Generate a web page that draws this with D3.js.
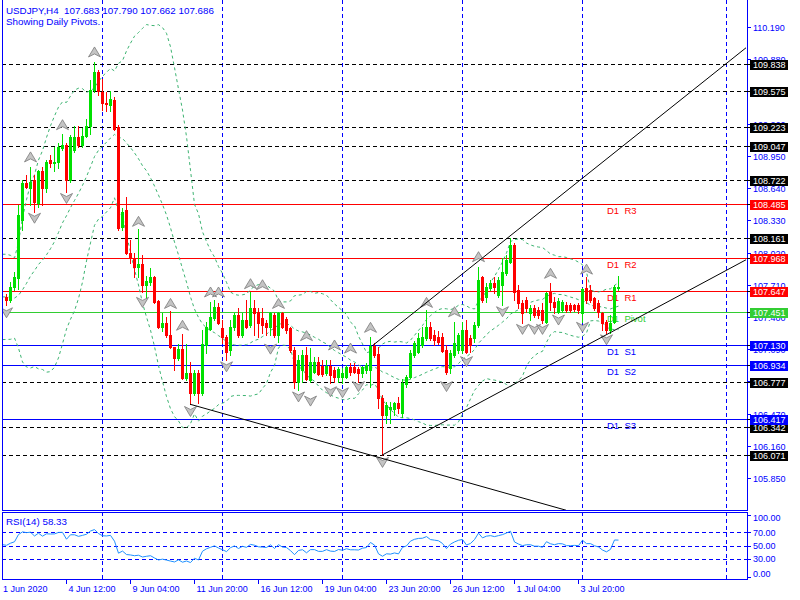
<!DOCTYPE html>
<html>
<head>
<meta charset="utf-8">
<script src="https://cdn.jsdelivr.net/npm/d3@7/dist/d3.min.js"></script>
<style>
html,body{margin:0;padding:0;background:#fff;}
svg{display:block;}
text{font-family:"Liberation Sans",Arial,sans-serif;font-size:9px;white-space:pre;}
</style>
</head>
<body>
<svg id="chart" width="800" height="600"></svg>
<script>
// ---------------- DATA ----------------
const titleText = "USDJPY,H4  107.683 107.790 107.662 107.686";
const subtitleText = "Showing Daily Pivots.";
const rsiLabel = "RSI(14) 58.33";

// bar index 0 = 1 Jun 2020 00:00 (H4 bars, weekdays); first drawn candle is bar 6
const firstIndex = 6;
const open = [
107.59,107.56,107.69,107.77,108.33,108.69,108.64,108.72,108.50,108.80,
108.64,108.91,108.88,108.89,109.03,109.05,108.72,109.01,109.13,109.05,
109.14,109.24,109.58,109.76,109.56,109.46,109.44,109.49,109.23,108.27,
108.43,108.02,107.97,107.88,107.91,107.71,107.74,107.78,107.55,107.30,
107.34,107.23,107.11,107.00,107.09,106.81,106.86,106.67,106.86,106.67,
107.13,107.28,107.39,107.50,107.29,107.21,107.08,107.30,107.42,107.23,
107.37,107.32,107.49,107.45,107.39,107.34,107.30,107.42,107.23,107.44,
107.38,107.29,107.08,106.77,106.89,107.03,106.79,106.87,106.97,106.93,
106.86,106.93,106.89,106.82,106.82,106.82,106.92,106.92,106.90,106.86,
106.89,106.89,107.12,107.04,106.62,106.46,106.51,106.51,106.57,106.48,
106.75,106.82,107.03,107.06,107.13,107.20,107.30,107.23,107.21,107.21,
107.08,106.91,107.03,107.08,107.08,107.27,107.20,107.20,107.32,107.78,
107.59,107.68,107.73,107.61,107.71,107.82,107.93,108.09,107.66,107.53,
107.56,107.44,107.49,107.47,107.47,107.35,107.64,107.54,107.45,107.47,
107.51,107.51,107.51,107.51,107.44,107.68,107.66,107.58,107.53,107.44,
107.35,107.27,107.35,107.683];
const high = [
107.62,107.74,107.83,108.48,108.72,108.77,108.84,108.77,108.81,108.84,
108.91,108.96,109.04,109.07,109.16,109.07,109.15,109.24,109.24,109.22,
109.30,109.68,109.85,109.78,109.69,109.56,109.57,109.52,109.25,108.45,
108.55,108.14,108.02,108.25,108.00,107.79,107.87,107.79,107.56,107.44,
107.40,107.46,107.11,107.14,107.24,107.14,106.97,106.89,106.89,107.27,
107.35,107.54,107.56,107.53,107.37,107.23,107.37,107.44,107.49,107.44,
107.56,107.64,107.56,107.49,107.49,107.37,107.45,107.44,107.45,107.45,
107.40,107.30,107.11,107.03,107.08,107.11,107.10,107.01,107.01,106.99,
106.99,106.99,106.92,106.92,106.91,106.94,106.96,106.96,106.92,106.93,
106.96,107.21,107.15,107.11,106.65,106.58,106.58,106.58,106.63,106.80,
106.84,107.08,107.17,107.25,107.30,107.47,107.35,107.27,107.26,107.25,
107.13,107.08,107.35,107.25,107.35,107.37,107.23,107.35,107.88,107.79,
107.73,107.76,107.78,107.78,107.97,108.00,108.16,108.11,107.71,107.56,
107.59,107.51,107.51,107.50,107.53,107.64,107.73,107.59,107.58,107.56,
107.54,107.53,107.52,107.53,107.68,107.78,107.71,107.59,107.56,107.45,
107.37,107.42,107.71,107.790];
const low = [
107.51,107.54,107.66,107.67,108.24,108.64,108.48,108.41,108.46,108.48,
108.60,108.84,108.80,108.83,109.01,108.60,108.70,108.99,109.04,109.04,
109.13,109.16,109.56,109.54,109.39,109.38,109.38,109.20,108.24,108.24,
108.01,107.92,107.78,107.78,107.64,107.58,107.71,107.53,107.29,107.26,
107.21,107.10,106.89,106.99,106.80,106.79,106.56,106.65,106.57,106.65,
107.05,107.27,107.37,107.33,107.15,106.99,107.03,107.27,107.21,107.21,
107.29,107.30,107.23,107.21,107.25,107.23,107.23,107.21,107.16,107.29,
107.25,107.06,106.72,106.70,106.77,106.79,106.77,106.86,106.84,106.83,
106.84,106.76,106.77,106.77,106.76,106.81,106.84,106.86,106.77,106.82,
106.86,106.73,107.01,106.52,106.07,106.38,106.38,106.46,106.48,106.44,
106.73,106.81,107.01,107.05,107.11,107.18,107.18,107.13,107.14,107.06,
106.85,106.86,107.01,107.05,107.05,107.05,107.06,107.16,107.30,107.54,
107.54,107.66,107.63,107.59,107.51,107.80,107.92,107.56,107.49,107.34,
107.45,107.37,107.40,107.39,107.34,107.34,107.47,107.44,107.44,107.45,
107.45,107.45,107.46,107.44,107.35,107.53,107.54,107.47,107.40,107.27,
107.25,107.25,107.34,107.662];
const close = [
107.56,107.69,107.78,108.38,108.69,108.65,108.70,108.51,108.80,108.64,
108.89,108.88,108.89,109.04,109.05,108.72,109.13,109.13,109.05,109.14,
109.24,109.58,109.76,109.57,109.46,109.45,109.50,109.21,108.26,108.41,
108.02,107.97,107.88,107.91,107.71,107.75,107.78,107.54,107.30,107.34,
107.23,107.11,107.00,107.09,106.81,106.86,106.67,106.86,106.67,107.14,
107.30,107.40,107.50,107.34,107.21,107.06,107.30,107.42,107.23,107.37,
107.30,107.49,107.44,107.34,107.32,107.30,107.44,107.23,107.44,107.30,
107.27,107.08,106.77,106.99,107.03,106.80,106.97,106.97,106.85,106.85,
106.93,106.84,106.82,106.90,106.86,106.92,106.87,106.87,106.86,106.92,
106.94,107.12,107.03,106.62,106.46,106.55,106.53,106.57,106.52,106.76,
106.82,107.05,107.15,107.20,107.21,107.30,107.20,107.18,107.16,107.07,
106.87,107.05,107.15,107.23,107.27,107.06,107.13,107.32,107.76,107.56,
107.69,107.73,107.69,107.76,107.83,107.95,108.09,107.64,107.53,107.44,
107.49,107.49,107.42,107.42,107.37,107.63,107.54,107.50,107.55,107.54,
107.47,107.47,107.48,107.47,107.67,107.56,107.56,107.49,107.45,107.34,
107.27,107.34,107.69,107.686];
// estimated closes of the 20 bars before the first drawn candle (indicator warm-up)
const warmupClose = [107.55,107.78,107.92,107.85,107.64,107.40,107.30,107.45,107.62,107.80,
107.88,107.70,107.52,107.28,107.20,107.35,107.58,107.75,107.68,107.60];

const timeTickIndex = [5,21,37,53,69,85,101,117,133,149];
const timeTickLabels = ["1 Jun 2020","4 Jun 12:00","9 Jun 04:00","11 Jun 20:00","16 Jun 12:00",
  "19 Jun 04:00","23 Jun 20:00","26 Jun 12:00","1 Jul 04:00","3 Jul 20:00"];
const weekGridIndex = [30,60,90,120,150,186];

const priceTicks = [105.85,106.16,106.47,106.78,107.09,107.40,107.71,108.02,108.33,108.64,108.95,109.26,109.57,109.88,110.19];
const hLevels = [109.838,109.575,109.223,109.047,108.722,108.161,106.777,106.342,106.071];
const pivotNames = ["D1  R3","D1  R2","D1  R1","D1  Pivot","D1  S1","D1  S2","D1  S3"];
const pivotValues = [108.485,107.968,107.647,107.451,107.130,106.934,106.417];
const pivotKinds = ["R","R","R","P","S","S","S"];

const upFractalIndex = [12,20,28,39,47,50,57,59,67,70,74,81,88,92,97,111,118,124,142,151];
const upFractalPrice = [108.94,109.25,109.95,108.32,107.53,107.32,107.64,107.64,107.72,107.71,107.53,107.22,107.13,107.10,107.30,107.54,107.45,107.98,107.82,107.86];
const downFractalIndex = [6,13,21,40,52,61,72,79,82,87,90,94,100,116,121,130,135,138,140,144,150,156];
const downFractalPrice = [107.44,108.35,108.54,107.54,106.49,106.92,107.09,106.63,106.59,106.68,106.67,106.73,106.00,106.73,106.97,107.45,107.28,107.28,107.28,107.37,107.30,107.18];

// trend lines: [[barIndex, price],[barIndex, price]]
const trendLines = [
  [[52,106.56],[146,105.54]],
  [[100,106.07],[191,107.95]],
  [[97.5,107.12],[191,109.99]]
];

const rsiLevels = [70,50,30];
const rsiTicks = [100,70,50,30,0];

// ---------------- DRAW ----------------
const BLUE = "#0000ff", UP = "#00e000", DN = "#ff0000", BBC = "#3cb371", PIV = "#32cd32";
const L = 2, R = 747, MB = 510, RT = 512, RB = 579;
const svg = d3.select("#chart");

const x = d3.scaleLinear().domain([0,191]).range([-18,746]);
const y = d3.scaleLinear().domain([105.85,110.19]).range([478,27]);
const yr = d3.scaleLinear().domain([0,100]).range([578.5,512.5]);
const py = p => Math.round(y(p)) + 0.5;

const defs = svg.append("defs");
defs.append("clipPath").attr("id","cm").append("rect").attr("x",L+1).attr("y",0).attr("width",R-L-1).attr("height",MB);
defs.append("clipPath").attr("id","cr").append("rect").attr("x",L+1).attr("y",RT+1).attr("width",R-L-1).attr("height",RB-RT-1);

svg.append("rect").attr("width",800).attr("height",600).attr("fill","#fff");
const gm = svg.append("g").attr("clip-path","url(#cm)");
const gr = svg.append("g").attr("clip-path","url(#cr)");

// vertical weekly grid
weekGridIndex.forEach(i => {
  const xx = Math.round(x(i)) + 0.5;
  gm.append("line").attr("x1",xx).attr("x2",xx).attr("y1",0).attr("y2",MB)
    .attr("stroke",BLUE).attr("stroke-dasharray","4,3").attr("shape-rendering","crispEdges");
  gr.append("line").attr("x1",xx).attr("x2",xx).attr("y1",RT).attr("y2",RB)
    .attr("stroke",BLUE).attr("stroke-dasharray","4,3").attr("shape-rendering","crispEdges");
});

// black dashed horizontal levels
gm.selectAll("line.hl").data(hLevels).join("line").attr("class","hl")
  .attr("x1",L).attr("x2",R).attr("y1",py).attr("y2",py)
  .attr("stroke","#000").attr("stroke-dasharray","4,3").attr("shape-rendering","crispEdges");

// pivot lines
const pivColor = k => k === "R" ? DN : (k === "P" ? PIV : BLUE);
const piv = pivotValues.map((v,k) => ({v, name: pivotNames[k], kind: pivotKinds[k]}));
gm.selectAll("line.pv").data(piv).join("line").attr("class","pv")
  .attr("x1",L).attr("x2",R).attr("y1",d=>py(d.v)).attr("y2",d=>py(d.v))
  .attr("stroke",d=>pivColor(d.kind)).attr("shape-rendering","crispEdges");
gm.selectAll("text.pv").data(piv).join("text").attr("class","pv")
  .attr("x",607).attr("y",d=>py(d.v)+9).attr("fill",d=>pivColor(d.kind))
  .style("font-size","9.5px").text(d=>d.name);

// Bollinger bands (20, 2) from closes
const allClose = warmupClose.concat(close);
const off = firstIndex - warmupClose.length;
const bb = [];
for (let k = 19; k < allClose.length; k++) {
  const w = allClose.slice(k-19, k+1);
  const m = d3.mean(w);
  const sd = Math.sqrt(d3.mean(w, v => (v-m)*(v-m)));
  bb.push({i: off+k, m, u: m+2*sd, l: m-2*sd});
}
["u","m","l"].forEach(key => {
  gm.append("path").datum(bb)
    .attr("d", d3.line().x(d=>x(d.i)+0.5).y(d=>y(d[key])))
    .attr("fill","none").attr("stroke",BBC).attr("stroke-width",1).attr("stroke-dasharray","3,3");
});

// candles
const bars = open.map((o,k) => ({i: firstIndex+k, o, h: high[k], l: low[k], c: close[k]}));
const cg = gm.append("g").attr("shape-rendering","crispEdges");
cg.selectAll("line").data(bars).join("line")
  .attr("x1",d=>x(d.i)+0.5).attr("x2",d=>x(d.i)+0.5)
  .attr("y1",d=>Math.round(y(d.h))).attr("y2",d=>Math.round(y(d.l))+1)
  .attr("stroke",d=>d.c>=d.o?UP:DN);
cg.selectAll("rect").data(bars).join("rect")
  .attr("x",d=>x(d.i)-1).attr("width",3)
  .attr("y",d=>Math.round(y(Math.max(d.o,d.c))))
  .attr("height",d=>Math.max(1, Math.round(y(Math.min(d.o,d.c))) - Math.round(y(Math.max(d.o,d.c))) + 1))
  .attr("fill",d=>d.c>=d.o?UP:DN);

// fractals
const upPath = "M0,-5 L6,5 L0,2 L-6,5 Z";
const dnPath = "M0,5 L6,-5 L0,-2 L-6,-5 Z";
const fr = gm.append("g");
fr.selectAll("path.up").data(upFractalIndex.map((i,k)=>({i,p:upFractalPrice[k]}))).join("path").attr("class","up")
  .attr("d",upPath).attr("transform",d=>`translate(${x(d.i)+0.5},${y(d.p)})`)
  .attr("fill","#c4c4c4").attr("stroke","#7a7a7a").attr("stroke-width",0.8);
fr.selectAll("path.dn").data(downFractalIndex.map((i,k)=>({i,p:downFractalPrice[k]}))).join("path").attr("class","dn")
  .attr("d",dnPath).attr("transform",d=>`translate(${x(d.i)+0.5},${y(d.p)})`)
  .attr("fill","#c4c4c4").attr("stroke","#7a7a7a").attr("stroke-width",0.8);

// trend lines
gm.selectAll("line.tl").data(trendLines).join("line").attr("class","tl")
  .attr("x1",d=>x(d[0][0])).attr("y1",d=>y(d[0][1]))
  .attr("x2",d=>x(d[1][0])).attr("y2",d=>y(d[1][1]))
  .attr("stroke","#000").attr("stroke-width",1);

// RSI(14)
const rsi = [];
let ag = 0, al = 0;
for (let k = 1; k < allClose.length; k++) {
  const ch = allClose[k] - allClose[k-1];
  const g = Math.max(ch,0), lo = Math.max(-ch,0);
  if (k <= 14) { ag += g/14; al += lo/14; }
  else { ag = (ag*13 + g)/14; al = (al*13 + lo)/14; }
  if (k >= 14) rsi.push({i: off+k, v: al === 0 ? 100 : 100 - 100/(1+ag/al)});
}
rsiLevels.forEach(v => {
  gr.append("line").attr("x1",L).attr("x2",R).attr("y1",Math.round(yr(v))+0.5).attr("y2",Math.round(yr(v))+0.5)
    .attr("stroke",BLUE).attr("stroke-dasharray","4,3").attr("shape-rendering","crispEdges");
});
gr.append("path").datum(rsi.filter(d=>d.i>=5))
  .attr("d", d3.line().x(d=>x(d.i)+0.5).y(d=>yr(d.v)))
  .attr("fill","none").attr("stroke","#1e90ff").attr("stroke-width",1);

// frames
const fg = svg.append("g").attr("shape-rendering","crispEdges").attr("stroke",BLUE).attr("fill","none");
fg.append("path").attr("d",`M${L+0.5},0 V${MB+0.5} H${R+0.5} V0`);
fg.append("rect").attr("x",L+0.5).attr("y",RT+0.5).attr("width",R-L).attr("height",RB-RT);

// titles
svg.append("text").attr("x",6).attr("y",14).attr("fill",BLUE).style("font-size","9.8px").text(titleText);
svg.append("text").attr("x",6).attr("y",25).attr("fill",BLUE).style("font-size","9.8px").text(subtitleText);
svg.append("text").attr("x",6).attr("y",525).attr("fill",BLUE).style("font-size","9.8px").text(rsiLabel);

// price axis
const ax = svg.append("g");
priceTicks.forEach(p => {
  const yy = py(p);
  ax.append("line").attr("x1",R).attr("x2",R+4).attr("y1",yy).attr("y2",yy).attr("stroke",BLUE).attr("shape-rendering","crispEdges");
  ax.append("text").attr("x",753).attr("y",yy+3.5).attr("fill",BLUE).text(p.toFixed(3));
});
function priceBox(p, col) {
  const yy = py(p);
  ax.append("line").attr("x1",R).attr("x2",R+3).attr("y1",yy).attr("y2",yy).attr("stroke","#000").attr("shape-rendering","crispEdges");
  ax.append("rect").attr("x",750).attr("y",Math.round(y(p))-4).attr("width",38).attr("height",10).attr("fill",col);
  ax.append("text").attr("x",753).attr("y",yy+3.5).attr("fill","#fff").text(p.toFixed(3));
}
hLevels.forEach(p => priceBox(p, "#000"));
piv.forEach(d => priceBox(d.v, pivColor(d.kind)));

// RSI axis
rsiTicks.forEach(v => {
  const ty = Math.min(577, Math.max(515, Math.round(yr(v)))) + 0.5;
  const ly = Math.min(573.5, Math.max(517.5, yr(v)));
  ax.append("line").attr("x1",R).attr("x2",R+4).attr("y1",ty).attr("y2",ty).attr("stroke",BLUE).attr("shape-rendering","crispEdges");
  ax.append("text").attr("x",753).attr("y",ly+3.5).attr("fill",BLUE).text(v.toFixed(2));
});

// time axis
timeTickIndex.forEach((i,k) => {
  const xx = Math.round(x(i)) + 0.5;
  if (k > 0) ax.append("line").attr("x1",xx).attr("x2",xx).attr("y1",RB).attr("y2",RB+5).attr("stroke",BLUE).attr("shape-rendering","crispEdges");
  ax.append("text").attr("x",k === 0 ? 3 : xx+2).attr("y",592).attr("fill",BLUE).text(timeTickLabels[k]);
});
</script>
</body>
</html>
